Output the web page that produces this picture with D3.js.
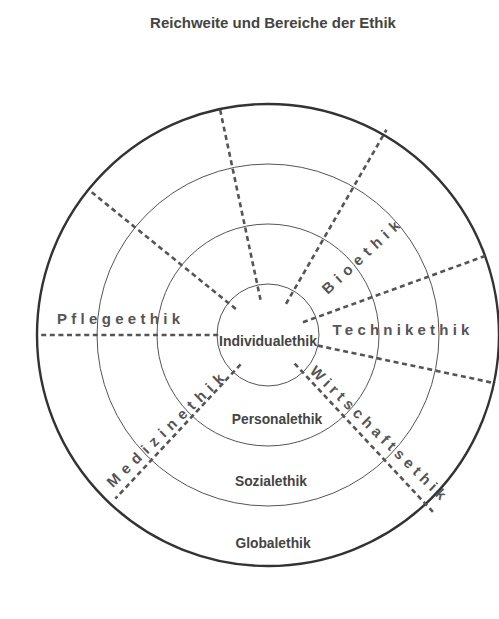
<!DOCTYPE html>
<html>
<head>
<meta charset="utf-8">
<script src="https://cdn.jsdelivr.net/npm/d3@7"></script>
<style>
  body { margin: 0; background: #fff; }
  svg { display: block; font-family: "Liberation Sans", Arial, sans-serif; }
</style>
</head>
<body>
<div id="chart"></div>
<script>
// ring names from the centre outwards
const rings = ['Individualethik', 'Personalethik', 'Sozialethik', 'Globalethik'];

// areas of ethics (sectors) in clockwise order, from the top
const fields = ['Bioethik', 'Technikethik', 'Wirtschaftsethik', 'Medizinethik', 'Pflegeethik'];

// boundary lines between the sectors: compass angle (deg), where they start and end (in ring units)
const spokeAngles = [-12, 30, 70, 102, 137, 223, 270, 309];
const spokeStart  = [0.75, 0.75, 0.77, 1.0, 0.8, 0.82, 0.98, 0.84];
const spokeEnd    = [4.0, 4.1, 4.0, 4.02, 4.22, 3.88, 3.95, 3.93];

const title = 'Reichweite und Bereiche der Ethik';

document.addEventListener('DOMContentLoaded', () => {
    const width = 499;
    const height = 619;
    const cx = 268;
    const cy = 335;

    const svg = d3.select('#chart')
        .append('svg')
        .attr('width', width)
        .attr('height', height);

    // ring index -> radius (outer edge of ring i is at i+1)
    const r = d3.scaleLinear()
        .domain([1, 4])
        .range([51, 231]);

    const g = svg.append('g')
        .attr('transform', `translate(${cx},${cy})`);

    svg.append('text')
        .attr('x', 273)
        .attr('y', 28)
        .attr('text-anchor', 'middle')
        .style('font-size', '15px')
        .style('font-weight', 'bold')
        .style('fill', '#444')
        .text(title);

    // concentric circles
    g.selectAll('.ring')
        .data(rings)
        .enter().append('circle')
        .attr('class', 'ring')
        .attr('r', (d, i) => r(i + 1))
        .attr('fill', 'none')
        .attr('stroke', (d, i) => i === rings.length - 1 ? '#333' : '#555')
        .attr('stroke-width', (d, i) => i === rings.length - 1 ? 2.4 : 1);

    // dashed sector boundaries
    const polar = (deg, rad) => {
        const a = deg * Math.PI / 180;
        return [rad * Math.sin(a), -rad * Math.cos(a)];
    };
    const spokes = spokeAngles.map((a, i) => ({ a, s: spokeStart[i], e: spokeEnd[i] }));

    g.selectAll('.spoke')
        .data(spokes)
        .enter().append('line')
        .attr('class', 'spoke')
        .attr('x1', d => polar(d.a, r(d.s))[0])
        .attr('y1', d => polar(d.a, r(d.s))[1])
        .attr('x2', d => polar(d.a, r(d.e))[0])
        .attr('y2', d => polar(d.a, r(d.e))[1])
        .attr('stroke', '#555')
        .attr('stroke-width', 2.6)
        .attr('stroke-dasharray', '5,3.6');

    // ring labels, centre label a bit bigger
    const ringLabelY = [6, 84, 146, 208];
    g.selectAll('.ring-label')
        .data(rings)
        .enter().append('text')
        .attr('class', 'ring-label')
        .attr('x', (d, i) => [0, 9, 3, 5][i])
        .attr('y', (d, i) => ringLabelY[i])
        .attr('text-anchor', 'middle')
        .attr('dominant-baseline', 'central')
        .style('font-size', (d, i) => i === 0 ? '14px' : '13.8px')
        .style('font-weight', 'bold')
        .style('fill', '#444')
        .text(d => d);

    // sector labels: offset from centre, rotation, letter spacing
    const place = {
        'Bioethik':         { x: 92.5,   y: -78, rot: -43, ls: 5.8 },
        'Technikethik':     { x: 133,    y: -6,  rot: 0,   ls: 4.2 },
        'Wirtschaftsethik': { x: 110.5,  y: 97.5, rot: 44.5, ls: 4.5 },
        'Medizinethik':     { x: -103,   y: 95,  rot: -44, ls: 6 },
        'Pflegeethik':      { x: -149.5, y: -17, rot: 0,   ls: 4.3 }
    };

    g.selectAll('.field-label')
        .data(fields)
        .enter().append('text')
        .attr('class', 'field-label')
        .attr('transform', d => `translate(${place[d].x},${place[d].y}) rotate(${place[d].rot})`)
        .attr('dx', d => place[d].ls / 2)
        .attr('text-anchor', 'middle')
        .attr('dominant-baseline', 'central')
        .style('font-size', '15px')
        .style('font-weight', 'bold')
        .style('letter-spacing', d => place[d].ls + 'px')
        .style('fill', '#555')
        .text(d => d);
});
</script>
</body>
</html>
